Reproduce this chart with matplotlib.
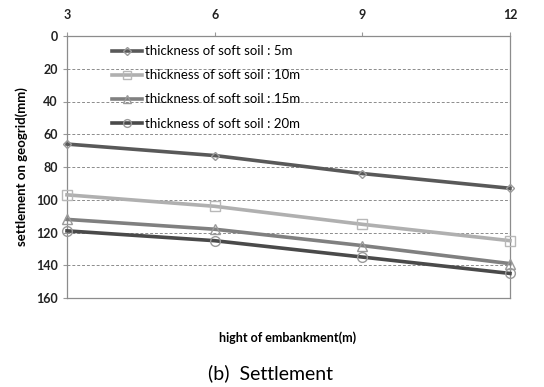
import matplotlib
matplotlib.use("Agg")
import matplotlib.pyplot as plt

# embankment height (m) and settlement on geogrid (mm) for each soft-soil thickness
heights = [3, 6, 9, 12]
settle_5m = [66, 73, 84, 93]
settle_10m = [97, 104, 115, 125]
settle_15m = [112, 118, 128, 139]
settle_20m = [119, 125, 135, 145]
y_ticks = [0, 20, 40, 60, 80, 100, 120, 140, 160]

plt.rcParams['font.family'] = ['Lato', 'DejaVu Sans']

fig = plt.figure(figsize=(5.44, 3.87), dpi=100)
ax = fig.add_axes([67 / 544, 1 - 298 / 387, (510 - 67) / 544, (298 - 36) / 387])

series = [
    (settle_5m, 'thickness of soft soil : 5m', '#595959', 'D', 4.5),
    (settle_10m, 'thickness of soft soil : 10m', '#b0b0b0', 's', 7),
    (settle_15m, 'thickness of soft soil : 15m', '#808080', '^', 7),
    (settle_20m, 'thickness of soft soil : 20m', '#4a4a4a', 'o', 7),
]
for vals, label, col, mk, ms in series:
    ax.plot(heights, vals, color=col, lw=2.6, marker=mk, ms=ms,
            mfc='none', mec='#9a9a9a' if mk != 's' else '#b8b8b8', mew=1.0,
            label=label, zorder=3, clip_on=False)

ax.set_xlim(3, 12)
ax.set_ylim(160, 0)
ax.set_yticks(y_ticks)
ax.set_xticks(heights)
ax.xaxis.tick_top()
ax.tick_params(axis='both', labelsize=9, colors='#222222', length=3)
ax.tick_params(axis='x', pad=8, color='#999999')
ax.tick_params(axis='y', color='#999999')
for lab in ax.get_xticklabels() + ax.get_yticklabels():
    lab.set_fontweight('bold')

ax.grid(axis='y', ls=(0, (3, 2)), color='#8c8c8c', lw=0.7)
for sp in ax.spines.values():
    sp.set_color('#8c8c8c')
    sp.set_linewidth(0.9)

ax.set_ylabel('settlement on geogrid(mm)', fontsize=9.5, fontweight='bold', labelpad=6)

leg = ax.legend(loc='upper left', bbox_to_anchor=(0.09, 0.985), frameon=False,
                fontsize=9.5, handlelength=2.3, handletextpad=0.2,
                labelspacing=0.92, borderaxespad=0, markerscale=0.8)

fig.text(288 / 544, 1 - 338 / 387, 'hight of embankment(m)', fontsize=9,
         fontweight='bold', ha='center', va='center')
fig.text(271 / 544, 1 - 373 / 387, '(b)  Settlement', fontsize=14,
         ha='center', va='center')

fig.savefig('out.png', dpi=100)
